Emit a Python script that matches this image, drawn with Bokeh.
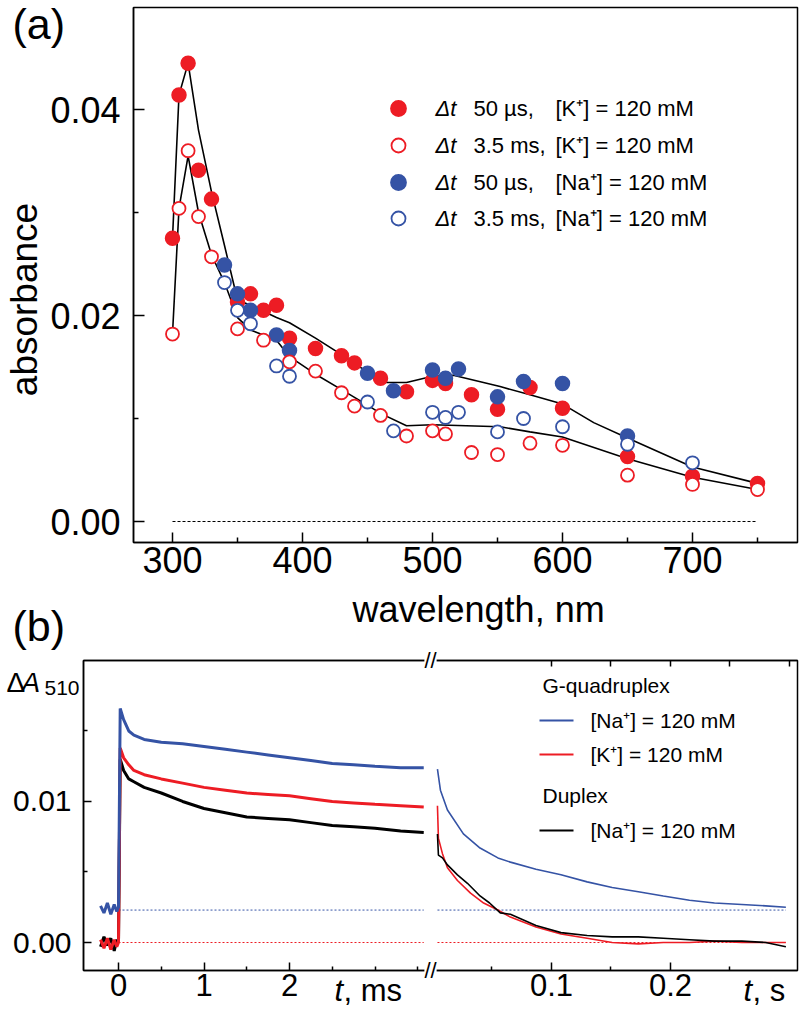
import math
from bokeh.plotting import figure
from bokeh.models import FixedTicker, PrintfTickFormatter, Range1d, LinearAxis, Label
from bokeh.embed import file_html
from bokeh.resources import INLINE

FONT = "Liberation Sans"
RED = "#ED1C24"
BLUE = "#3553A5"

# ---------------- panel (a) data ----------------
WL_K50 = [300, 305, 312, 320, 330, 350, 360, 370, 380, 390, 410, 430, 440, 460, 480, 500, 510, 530, 550, 575, 600, 650, 700, 750]
A_K50 = [0.0275, 0.0414, 0.0445, 0.0341, 0.0313, 0.0213, 0.0221, 0.0205, 0.0210, 0.0178, 0.0168, 0.0161, 0.0154, 0.0139,
         0.0126, 0.0137, 0.0134, 0.0123, 0.0109, 0.0130, 0.0110, 0.0063, 0.0044, 0.0037]
WL_K35 = [300, 305, 312, 320, 330, 350, 370, 390, 410, 430, 440, 460, 480, 500, 510, 530, 550, 575, 600, 650, 700, 750]
A_K35 = [0.0182, 0.0304, 0.0360, 0.0296, 0.0257, 0.0187, 0.0176, 0.0155, 0.0146, 0.0125, 0.0112, 0.0103, 0.0083, 0.0088,
         0.0085, 0.0067, 0.0065, 0.0076, 0.0074, 0.0045, 0.0036, 0.0031]
WL_NA50 = [340, 350, 360, 380, 390, 450, 470, 500, 510, 520, 550, 570, 600, 650]
A_NA50 = [0.0249, 0.0221, 0.0205, 0.0181, 0.0166, 0.0144, 0.0127, 0.0147, 0.0139, 0.0148, 0.0121, 0.0136, 0.0134, 0.0083]
WL_NA35 = [340, 350, 360, 380, 390, 450, 470, 500, 510, 520, 550, 570, 600, 650, 700]
A_NA35 = [0.0232, 0.0205, 0.0192, 0.0151, 0.0141, 0.0116, 0.0088, 0.0106, 0.0101, 0.0106, 0.0087, 0.0100, 0.0092, 0.0075, 0.0057]

FIT50_WL = [300, 305, 312, 320, 330, 340, 350, 360, 380, 390, 410, 430, 450, 465, 480, 500, 516, 552, 575, 600, 624, 650, 700, 750]
FIT50_A = [0.0275, 0.0414, 0.0445, 0.0380, 0.0320, 0.0268, 0.0215, 0.0210, 0.0198, 0.0193, 0.0178, 0.0162, 0.0145, 0.0135,
           0.0135, 0.0141, 0.0142, 0.0131, 0.0123, 0.0114, 0.0096, 0.0081, 0.0053, 0.0037]
FIT35_WL = [300, 305, 312, 320, 330, 340, 350, 360, 380, 390, 410, 430, 450, 460, 480, 500, 552, 575, 600, 650, 700, 750]
FIT35_A = [0.0182, 0.0304, 0.0355, 0.0300, 0.0259, 0.0232, 0.0198, 0.0186, 0.0176, 0.0160, 0.0143, 0.0128, 0.0113, 0.0105,
           0.0093, 0.0094, 0.0092, 0.0087, 0.0082, 0.0061, 0.0043, 0.0031]

A_XTICKS = [300, 400, 500, 600, 700]
A_XMINOR = [350, 450, 550, 650, 750]
A_YTICKS = [0.0, 0.02, 0.04]
A_YMINOR = [0.01, 0.03]
ZERO_WL = [300, 750]

LEG_A = [
    ("50 µs,", "[K⁺] = 120 mM", RED, True),
    ("3.5 ms,", "[K⁺] = 120 mM", RED, False),
    ("50 µs,", "[Na⁺] = 120 mM", BLUE, True),
    ("3.5 ms,", "[Na⁺] = 120 mM", BLUE, False),
]

# ---------------- panel (b) data ----------------
T_MS = [-0.21, -0.17, -0.13, -0.09, -0.05, -0.02, 0.0, 0.02, 0.06, 0.12, 0.18, 0.3, 0.5, 0.75, 1.0, 1.25, 1.5, 1.75,
        2.0, 2.25, 2.5, 2.75, 3.0, 3.3, 3.57]
GQ_NA_MS = [0.0026, 0.0021, 0.0028, 0.0020, 0.0027, 0.0022, 0.0025, 0.0166, 0.0158, 0.0150, 0.0147, 0.0144, 0.0142,
            0.0141, 0.0139, 0.0137, 0.0135, 0.0133, 0.0131, 0.0129, 0.0127, 0.0126, 0.0125, 0.0124, 0.0124]
GQ_K_MS = [0.0002, -0.0004, 0.0003, -0.0005, 0.0002, -0.0003, 0.0, 0.0138, 0.0131, 0.0126, 0.0122, 0.0119, 0.0116,
           0.0113, 0.0110, 0.0108, 0.0106, 0.0105, 0.0104, 0.0102, 0.0100, 0.0099, 0.0098, 0.0097, 0.0096]
DUP_NA_MS = [-0.0003, 0.0004, -0.0002, 0.0003, -0.0006, 0.0002, 0.0, 0.0130, 0.0122, 0.0116, 0.0114, 0.0110, 0.0106,
             0.0100, 0.0095, 0.0092, 0.0089, 0.0088, 0.0087, 0.0085, 0.0083, 0.0082, 0.0081, 0.0079, 0.0078]

T_S_NA = [0.0042, 0.0067, 0.0126, 0.026, 0.040, 0.055, 0.0655, 0.087, 0.108, 0.13, 0.151, 0.173, 0.194, 0.216, 0.237,
          0.26, 0.28, 0.297]
GQ_NA_S = [0.0123, 0.0108, 0.0094, 0.0077, 0.0067, 0.0060, 0.0057, 0.0052, 0.0048, 0.0043, 0.0039, 0.0036, 0.0033,
           0.0030, 0.0028, 0.0027, 0.0026, 0.0025]
T_S_K = [0.0042, 0.005, 0.0084, 0.0126, 0.021, 0.032, 0.043, 0.055, 0.0655, 0.087, 0.108, 0.13, 0.151, 0.173, 0.194,
         0.216, 0.237, 0.26, 0.28, 0.297]
GQ_K_S = [0.0097, 0.0074, 0.0063, 0.0053, 0.0044, 0.0035, 0.0028, 0.0023, 0.0018, 0.0011, 0.0006, 0.0003, 0.0000,
          -0.0001, 0.0000, 0.0000, 0.0001, 0.0000, 0.0000, 0.0000]
T_S_DUP = [0.0042, 0.005, 0.0084, 0.0126, 0.021, 0.0294, 0.040, 0.048, 0.057, 0.0655, 0.087, 0.108, 0.13, 0.151, 0.173,
           0.194, 0.216, 0.237, 0.26, 0.28, 0.297]
DUP_NA_S = [0.0077, 0.0062, 0.0060, 0.0055, 0.0048, 0.0042, 0.0033, 0.0028, 0.0021, 0.0020, 0.0012, 0.0007, 0.0005,
            0.0004, 0.0004, 0.0003, 0.0002, 0.0001, 0.0001, 0.0000, -0.0003]

BASE_NA = 0.0023
BASE_K = 0.0
B_MS_TICKS = [0, 1, 2]
B_MS_LABELS = ["0", "1", "2"]
B_MS_MINOR = [0.5, 1.5, 2.5, 3.0, 3.5]
B_S_TICKS = [0.1, 0.2]
B_S_LABELS = ["0.1", "0.2"]
B_S_MINOR = [0.05, 0.15, 0.25]
B_S_TOP = [0.1, 0.15, 0.2, 0.25, 0.3]
B_YTICKS = [0.0, 0.01]
B_YMINOR = [0.005, 0.015]

LEG_B = [("G-quadruplex", None, None), (None, "[Na⁺] = 120 mM", BLUE), (None, "[K⁺] = 120 mM", RED),
         ("Duplex", None, None), (None, "[Na⁺] = 120 mM", "black")]

# composite (broken) time axis: ms units on the main range, seconds mapped after the break
MS_PER_S = 13.918
MS_AT_ZERO_S = 3.672


def s_to_ms(s):
    return MS_AT_ZERO_S + s * MS_PER_S


# pixel helpers (legend sample placement only)
def ax_x(px):
    return 300 + (px - 172) / 1.3


def ax_y(py):
    return (521 - py) / 10300


def bx(px):
    return (px - 118) / 85.5


def by(py):
    return (942 - py) / 14102


def style_axis(ax, size, standoff):
    ax.axis_line_width = 1.5
    ax.axis_line_color = "black"
    ax.major_tick_line_width = 1.5
    ax.minor_tick_line_width = 1.5
    ax.major_tick_line_color = "black"
    ax.minor_tick_line_color = "black"
    ax.major_tick_out = 0
    ax.minor_tick_out = 0
    ax.major_label_text_font = FONT
    ax.major_label_text_font_size = size
    ax.major_label_text_color = "black"
    ax.major_label_standoff = standoff


# ================= panel (a) =================
p1 = figure(width=800, height=650, output_backend="svg", toolbar_location=None,
            x_range=Range1d(ax_x(133), ax_x(797)), y_range=Range1d(ax_y(542), ax_y(7)),
            min_border_left=133, min_border_right=3, min_border_top=7, min_border_bottom=108)
p1.grid.visible = False
p1.outline_line_color = "black"
p1.outline_line_width = 1.5

xa = p1.xaxis[0]
xa.ticker = FixedTicker(ticks=A_XTICKS, minor_ticks=A_XMINOR)
style_axis(xa, "36px", 4)
xa.major_tick_in = 10
xa.minor_tick_in = 5
ya = p1.yaxis[0]
ya.ticker = FixedTicker(ticks=A_YTICKS, minor_ticks=A_YMINOR)
ya.formatter = PrintfTickFormatter(format="%.2f")
style_axis(ya, "36px", 13)
ya.major_tick_in = 11
ya.minor_tick_in = 5

p1.line(ZERO_WL, [0, 0], line_color="black", line_width=1, line_dash="3 2")
p1.line(FIT50_WL, FIT50_A, line_color="black", line_width=1.6)
p1.line(FIT35_WL, FIT35_A, line_color="black", line_width=1.6)
p1.scatter(WL_K50, A_K50, size=14, fill_color=RED, line_color=RED, line_width=1.5)
p1.scatter(WL_NA50, A_NA50, size=14, fill_color=BLUE, line_color=BLUE, line_width=1.5)
p1.scatter(WL_K35, A_K35, size=13, fill_color="white", line_color=RED, line_width=1.8)
p1.scatter(WL_NA35, A_NA35, size=13, fill_color="white", line_color=BLUE, line_width=1.8)

ROW_Y = [108, 145, 182, 218]
for (dt, conc, col, filled), ry in zip(LEG_A, ROW_Y):
    p1.scatter([ax_x(398)], [ax_y(ry)], size=15 if filled else 14,
               fill_color=col if filled else "white", line_color=col, line_width=1.8)

# ================= panel (b) =================
MS_LO, MS_HI = bx(83), bx(797)
p2 = figure(width=800, height=359, output_backend="svg", toolbar_location=None,
            x_range=Range1d(MS_LO, MS_HI), y_range=Range1d(by(970), by(660)),
            min_border_left=83, min_border_right=3, min_border_top=10, min_border_bottom=39)
p2.extra_x_ranges = {"s": Range1d((MS_LO - MS_AT_ZERO_S) / MS_PER_S, (MS_HI - MS_AT_ZERO_S) / MS_PER_S)}
p2.grid.visible = False
p2.outline_line_color = "black"
p2.outline_line_width = 1.5

bxa = p2.xaxis[0]
major = list(B_MS_TICKS) + [s_to_ms(s) for s in B_S_TICKS]
minor = list(B_MS_MINOR) + [s_to_ms(s) for s in B_S_MINOR]
bxa.ticker = FixedTicker(ticks=major, minor_ticks=minor)
bxa.major_label_overrides = dict(zip(major, B_MS_LABELS + B_S_LABELS))
style_axis(bxa, "31px", 3)
bxa.major_tick_in = 8
bxa.minor_tick_in = 4

bya = p2.yaxis[0]
bya.ticker = FixedTicker(ticks=B_YTICKS, minor_ticks=B_YMINOR)
bya.formatter = PrintfTickFormatter(format="%.2f")
style_axis(bya, "30px", 12)
bya.major_tick_in = 8
bya.minor_tick_in = 4

top = LinearAxis(ticker=FixedTicker(ticks=[s_to_ms(s) for s in B_S_TOP], minor_ticks=[]))
style_axis(top, "1px", 0)
top.major_label_text_color = None
top.major_tick_in = 6
p2.add_layout(top, "above")

p2.line([0, T_MS[-1]], [BASE_NA, BASE_NA], line_color=BLUE, line_width=1, line_dash="2 2")
p2.line([0, T_MS[-1]], [BASE_K, BASE_K], line_color=RED, line_width=1, line_dash="2 2")
p2.line([T_S_NA[0], T_S_NA[-1]], [BASE_NA, BASE_NA], line_color=BLUE, line_width=1, line_dash="2 2", x_range_name="s")
p2.line([T_S_K[0], T_S_K[-1]], [BASE_K, BASE_K], line_color=RED, line_width=1, line_dash="2 2", x_range_name="s")

p2.line(T_MS, DUP_NA_MS, line_color="black", line_width=3)
p2.line(T_MS, GQ_K_MS, line_color=RED, line_width=3)
p2.line(T_MS, GQ_NA_MS, line_color=BLUE, line_width=3)
p2.line(T_S_K, GQ_K_S, line_color=RED, line_width=1.6, x_range_name="s")
p2.line(T_S_DUP, DUP_NA_S, line_color="black", line_width=1.6, x_range_name="s")
p2.line(T_S_NA, GQ_NA_S, line_color=BLUE, line_width=1.6, x_range_name="s")

LEG_B_Y = [693, 720, 754, 803, 830]
for (head, conc, col), ly in zip(LEG_B, LEG_B_Y):
    if col is not None:
        p2.line([bx(539), bx(573)], [by(ly), by(ly)], line_color=col, line_width=2)

# ================= transparent overlay carrying all texts =================
ov = figure(width=800, height=1009, output_backend="svg", toolbar_location=None,
            x_range=Range1d(0, 800), y_range=Range1d(1009, 0),
            x_axis_location=None, y_axis_location=None, min_border=0,
            margin=(-1009, 0, 0, 0))
ov.grid.visible = False
ov.outline_line_color = None
ov.background_fill_color = None
ov.border_fill_color = None

SHIFT = 0.37  # measured baseline correction of the svg text placement (em)


def txt(px, py, text, size, style="normal", align="left", angle=0.0):
    if angle == 0.0:
        x, y = px, py - SHIFT * size
    else:
        x, y = px - 0.42 * size, py
    ov.add_layout(Label(x=x, y=y, text=text, text_font=FONT, text_font_size=f"{size}px",
                        text_font_style=style, text_align=align, text_baseline="alphabetic",
                        angle=angle, text_color="black"))


def brk(px, py):
    ov.add_layout(Label(x=px, y=py, text="//", text_font=FONT, text_font_size="22px",
                        text_align="center", text_baseline="middle", background_fill_color="white",
                        text_color="black"))


# panel labels and axis titles
txt(12, 39, "(a)", 43)
txt(12, 641, "(b)", 43)
txt(40, 299, "absorbance", 37, align="center", angle=math.pi / 2)
txt(352, 622, "wavelength, nm", 36)
txt(6, 692, "Δ", 28)
txt(21, 692, "A", 28, style="italic")
txt(44, 695, "510", 21)
txt(334, 1001, "t", 31, style="italic")
txt(343, 1001, ", ms", 31)
txt(743, 1001, "t", 31, style="italic")
txt(752, 1001, ", s", 31)

# legend (a) texts
for (dt, conc, col, filled), ry in zip(LEG_A, ROW_Y):
    txt(435, ry + 8, "Δt", 22, style="italic")
    txt(473, ry + 8, dt, 22)
    txt(555, ry + 8, conc, 22)

# legend (b) texts
for (head, conc, col), ly in zip(LEG_B, LEG_B_Y):
    if head is not None:
        txt(542, ly, head, 21)
    else:
        txt(590, ly + 8, conc, 21)

brk(430, 970)
brk(430, 660)

open("out.html", "w").write(file_html([p1, p2, ov], INLINE))
